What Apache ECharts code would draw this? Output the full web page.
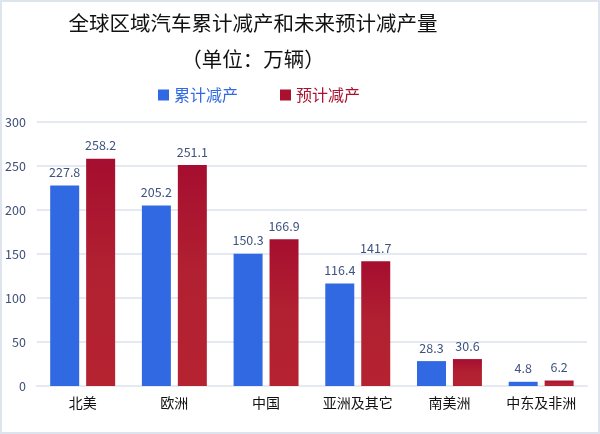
<!DOCTYPE html>
<html>
<head>
<meta charset="utf-8">
<script src="https://cdn.jsdelivr.net/npm/echarts@6/dist/echarts.min.js"></script>
<style>
body { margin: 0; background: #fff; }
#chart { width: 596px; height: 430px; border: 2px solid #dde4ee; }
</style>
</head>
<body>
<div id="chart"></div>
<script>
var regions = ["北美", "欧洲", "中国", "亚洲及其它", "南美洲", "中东及非洲"];
var cumulative = [227.8, 205.2, 150.3, 116.4, 28.3, 4.8];
var expected = [258.2, 251.1, 166.9, 141.7, 30.6, 6.2];
var yTicks = { min: 0, max: 300, interval: 50 };

var font = "Noto Sans CJK SC";
var blue = "#3169E3";
var red = "#A9112F";

var canvas = echarts.init(document.getElementById("chart"));
var option = {
    textStyle: { fontFamily: font },
    graphic: [
        {
            type: "text", x: 251, y: 21,
            style: { text: "全球区域汽车累计减产和未来预计减产量", font: "20.5px " + font, fill: "#111",
                     align: "center", verticalAlign: "middle" }
        },
        {
            type: "text", x: 251, y: 57,
            style: { text: "（单位：万辆）", font: "20.5px " + font, fill: "#111",
                     align: "center", verticalAlign: "middle" }
        }
    ],
    legend: {
        left: 151,
        top: 80,
        itemWidth: 11,
        itemHeight: 11,
        itemGap: 42,
        icon: "rect",
        textStyle: { fontSize: 16, fontFamily: font },
        data: [
            { name: "累计减产", textStyle: { color: blue }, itemStyle: { color: blue } },
            { name: "预计减产", textStyle: { color: red }, itemStyle: { color: red } }
        ]
    },
    grid: { left: 33, right: 11, top: 120, bottom: 46 },
    xAxis: {
        type: "category",
        data: regions,
        axisTick: { show: false },
        axisLine: { lineStyle: { color: "#e4e9f2", width: 2 } },
        axisLabel: { color: "#111", fontSize: 14, margin: 10 }
    },
    yAxis: {
        type: "value",
        min: yTicks.min,
        max: yTicks.max,
        interval: yTicks.interval,
        axisLine: { show: false },
        axisTick: { show: false },
        splitLine: { lineStyle: { color: "#e4e9f2", width: 2 } },
        axisLabel: { color: "#3f4f78", fontSize: 12.5, margin: 11 }
    },
    series: [
        {
            name: "累计减产",
            type: "bar",
            data: cumulative,
            barWidth: 29,
            barGap: "24%",
            itemStyle: { color: blue },
            label: { show: true, position: "top", distance: 7, color: "#3f5280", fontSize: 12.5 }
        },
        {
            name: "预计减产",
            type: "bar",
            data: expected,
            barWidth: 29,
            itemStyle: {
                color: new echarts.graphic.LinearGradient(0, 0, 0, 1, [
                    { offset: 0, color: "#a50e2f" },
                    { offset: 0.5, color: "#b22131" },
                    { offset: 1, color: "#b52331" }
                ])
            },
            label: { show: true, position: "top", distance: 7, color: "#3f5280", fontSize: 12.5 }
        }
    ]
};
canvas.setOption(option);
</script>
</body>
</html>
